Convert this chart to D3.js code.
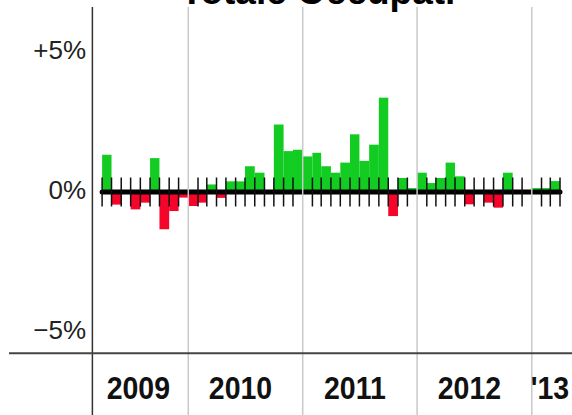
<!DOCTYPE html>
<html>
<head>
<meta charset="utf-8">
<script src="https://cdn.jsdelivr.net/npm/d3@7"></script>
<style>
  body { margin: 0; background: #fff; }
  svg { display: block; font-family: "Liberation Sans", Arial, sans-serif; }
</style>
</head>
<body>
<svg id="chart"></svg>
<script>
// monthly change, April 2009 .. March 2013 (%)
var firstMonth = [2009, 3];   // year, 0-based month (April)
var changePct = [
  1.33, -0.45, -0.05, -0.62, -0.38, 1.21, -1.33, -0.68, -0.20,
  -0.50, -0.38, 0.27, -0.21, 0.38, 0.38, 0.92, 0.69, 0.05, 2.41, 1.46, 1.51,
  1.27, 1.40, 0.92, 0.69, 1.05, 2.06, 1.11, 1.69, 3.37, -0.86, 0.50, 0.14,
  0.69, 0.32, 0.50, 1.05, 0.56, -0.44, 0.05, -0.38, -0.56, 0.69, -0.05, 0.05,
  0.14, 0.14, 0.39
];
var years = [2009, 2010, 2011, 2012, 2013];
var yearLabels = ["2009", "2010", "2011", "2012", "'13"];
var yTicks = [5, 0, -5];
var yTickLabels = ["+5%", "0%", "\u22125%"];
var title = "Totale Occupati";

var chart_width = 572;
var chart_height = 415;
var green = "#12cc22";
var red = "#f5052a";

var svg = d3.select("#chart")
  .attr("width", chart_width)
  .attr("height", chart_height);

var startDate = new Date(2009, 2, 1);
var xScale = d3.scaleTime()
  .domain([new Date(2010, 0, 1), new Date(2013, 0, 1)])
  .range([188.3, 531.8]);
var yScale = d3.scaleLinear()
  .domain([-5, 5])
  .range([332, 52]);

var left = xScale(startDate);
var zeroY = yScale(0);

var data = changePct.map(function(v, i) {
  var d0 = new Date(firstMonth[0], firstMonth[1] + i, 1);
  var d1 = new Date(firstMonth[0], firstMonth[1] + i + 1, 1);
  return { start: d0, end: d1, value: v };
});

// bars
svg.append("g")
  .selectAll("rect")
  .data(data)
  .enter()
  .append("rect")
  .attr("x", function(d) { return xScale(d.start); })
  .attr("width", function(d) { return xScale(d.end) - xScale(d.start); })
  .attr("y", function(d) { return Math.min(yScale(d.value), zeroY); })
  .attr("height", function(d) { return Math.abs(yScale(d.value) - zeroY); })
  .attr("fill", function(d) { return d.value >= 0 ? green : red; });

// thick zero line
var lastDate = data[data.length - 1].end;
svg.append("line")
  .attr("x1", xScale(data[0].start))
  .attr("x2", xScale(lastDate))
  .attr("y1", zeroY)
  .attr("y2", zeroY)
  .attr("stroke", "#000")
  .attr("stroke-width", 5)
  .attr("stroke-linecap", "round");

// month ticks
var tickDates = data.map(function(d) { return d.start; }).concat([lastDate])
  .filter(function(d) { return d.getMonth() !== 0; });
svg.append("g")
  .selectAll("line")
  .data(tickDates)
  .enter()
  .append("line")
  .attr("x1", function(d) { return xScale(d); })
  .attr("x2", function(d) { return xScale(d); })
  .attr("y1", zeroY - 14.5)
  .attr("y2", zeroY + 14.5)
  .attr("stroke", "#111")
  .attr("stroke-width", 1.5);

// year grid lines
svg.append("g")
  .selectAll("line")
  .data(years.slice(1))
  .enter()
  .append("line")
  .attr("x1", function(d) { return xScale(new Date(d, 0, 1)); })
  .attr("x2", function(d) { return xScale(new Date(d, 0, 1)); })
  .attr("y1", 7)
  .attr("y2", chart_height)
  .attr("stroke", "#c8c8c8")
  .attr("stroke-width", 1.5);

// left axis and bottom line
svg.append("line")
  .attr("x1", left).attr("x2", left)
  .attr("y1", 7).attr("y2", chart_height)
  .attr("stroke", "#333")
  .attr("stroke-width", 1.5);

svg.append("line")
  .attr("x1", 9).attr("x2", chart_width)
  .attr("y1", 353.3).attr("y2", 353.3)
  .attr("stroke", "#444")
  .attr("stroke-width", 2);

// y labels
svg.append("g")
  .selectAll("text")
  .data(yTicks)
  .enter()
  .append("text")
  .attr("x", 86)
  .attr("y", function(d) { return yScale(d) + 7; })
  .attr("text-anchor", "end")
  .attr("fill", "#222")
  .style("font-size", "26px")
  .text(function(d, i) { return yTickLabels[i]; });

// year labels
svg.append("g")
  .selectAll("text")
  .data(years)
  .enter()
  .append("text")
  .attr("transform", function(d) {
    var a = Math.max(xScale(new Date(d, 0, 1)), left);
    var b = Math.min(xScale(new Date(d + 1, 0, 1)), chart_width);
    var full = (a === xScale(new Date(d, 0, 1))) && (b === xScale(new Date(d + 1, 0, 1)));
    var cx = (a + b) / 2 - (full ? 5 : 2);
    return "translate(" + cx + ",399.3) scale(1,1.1)";
  })
  .attr("text-anchor", "middle")
  .attr("fill", "#111")
  .style("font-size", "28.5px")
  .style("font-weight", "bold")
  .text(function(d, i) { return yearLabels[i]; });

// title (cut off at top)
svg.append("text")
  .attr("x", 318)
  .attr("y", 4)
  .attr("text-anchor", "middle")
  .style("font-size", "37px")
  .style("font-weight", "bold")
  .text(title);
</script>
</body>
</html>
